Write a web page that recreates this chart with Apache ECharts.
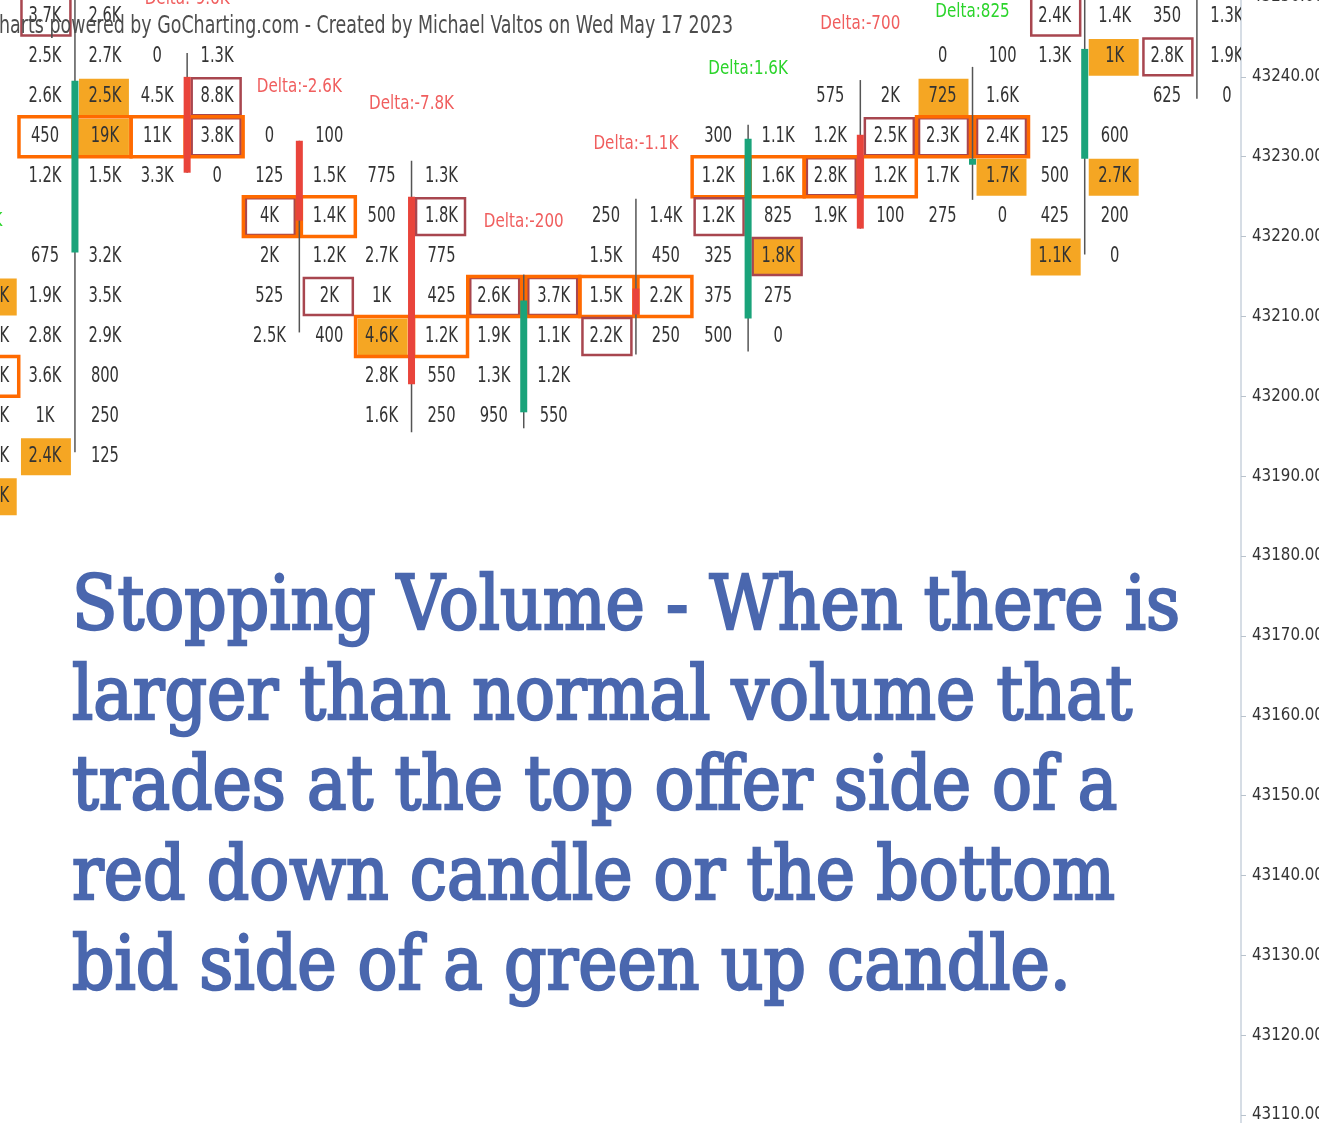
<!DOCTYPE html>
<html>
<head>
<meta charset="utf-8">
<script src="https://cdn.jsdelivr.net/npm/echarts@6.0.0/dist/echarts.min.js"></script>
<style>
html, body { margin: 0; padding: 0; background: #fff; }
#main { width: 1319px; height: 1123px; }
</style>
</head>
<body>
<div id="main"></div>
<script>
// candles: x index, OHLC in price
var candles = [-1, 0, 1, 2, 3, 4, 5, 6, 7, 8, 9, 10];
var opens  = [43200, 43218, 43240, 43232, 43225, 43198, 43213.5, 43209.75, 43232.75, 43229, 43229.75, 43252];
var closes = [43215, 43239.5, 43228, 43222, 43201.5, 43212, 43210.25, 43232.25, 43221, 43229.75, 43243.5, 43256];
var highs  = [43222, 43256, 43243, 43232, 43229.5, 43215.25, 43224.75, 43234, 43239.6, 43241.25, 43256, 43258];
var lows   = [43180, 43193, 43228, 43208, 43195.5, 43196, 43205.25, 43205.6, 43221, 43224.6, 43217.75, 43237.25];

var deltaText  = ['Delta:1.1K', '', 'Delta:-9.6K', 'Delta:-2.6K', 'Delta:-7.8K', 'Delta:-200', 'Delta:-1.1K', 'Delta:1.6K', 'Delta:-700', 'Delta:825', '', ''];
var deltaPrice = [43222, null, 43249.8, 43238.8, 43236.6, 43221.9, 43231.6, 43241, 43246.6, 43248.1, null, null];

// footprint rows: [row low price, bid, ask, bid mark, ask mark]
// marks: f = filled, o = orange box, m = maroon box
var fpM1 = [
    [43210, '', '1.3K', '', 'f'], [43205, '', '2.1K', '', ''], [43200, '', '1.6K', '', 'o'],
    [43195, '', '1.1K', '', ''], [43190, '', '1.4K', '', ''], [43185, '', '2.9K', '', 'f'],
    [43180, '', '0', '', '']
];
var fpA = [
    [43245, '3.7K', '2.6K', 'm', ''], [43240, '2.5K', '2.7K', '', ''], [43235, '2.6K', '2.5K', '', 'f'],
    [43230, '450', '19K', 'o', 'fo'], [43225, '1.2K', '1.5K', '', ''], [43215, '675', '3.2K', '', ''],
    [43210, '1.9K', '3.5K', '', ''], [43205, '2.8K', '2.9K', '', ''], [43200, '3.6K', '800', '', ''],
    [43195, '1K', '250', '', ''], [43190, '2.4K', '125', 'f', '']
];
var fpB = [
    [43240, '0', '1.3K', '', ''], [43235, '4.5K', '8.8K', '', 'm'], [43230, '11K', '3.8K', 'o', 'mo'],
    [43225, '3.3K', '0', '', '']
];
var fpC = [
    [43230, '0', '100', '', ''], [43225, '125', '1.5K', '', ''], [43220, '4K', '1.4K', 'mo', 'o'],
    [43215, '2K', '1.2K', '', ''], [43210, '525', '2K', '', 'm'], [43205, '2.5K', '400', '', '']
];
var fpD = [
    [43225, '775', '1.3K', '', ''], [43220, '500', '1.8K', '', 'm'], [43215, '2.7K', '775', '', ''],
    [43210, '1K', '425', '', ''], [43205, '4.6K', '1.2K', 'fo', 'o'], [43200, '2.8K', '550', '', ''],
    [43195, '1.6K', '250', '', '']
];
var fpE = [
    [43210, '2.6K', '3.7K', 'mo', 'mo'], [43205, '1.9K', '1.1K', '', ''], [43200, '1.3K', '1.2K', '', ''],
    [43195, '950', '550', '', '']
];
var fpF = [
    [43220, '250', '1.4K', '', ''], [43215, '1.5K', '450', '', ''], [43210, '1.5K', '2.2K', 'o', 'o'],
    [43205, '2.2K', '250', 'm', '']
];
var fpG = [
    [43230, '300', '1.1K', '', ''], [43225, '1.2K', '1.6K', 'o', 'o'], [43220, '1.2K', '825', 'm', ''],
    [43215, '325', '1.8K', '', 'fm'], [43210, '375', '275', '', ''], [43205, '500', '0', '', '']
];
var fpH = [
    [43235, '575', '2K', '', ''], [43230, '1.2K', '2.5K', '', 'm'], [43225, '2.8K', '1.2K', 'mo', 'o'],
    [43220, '1.9K', '100', '', '']
];
var fpI = [
    [43240, '0', '100', '', ''], [43235, '725', '1.6K', 'f', ''], [43230, '2.3K', '2.4K', 'mo', 'mo'],
    [43225, '1.7K', '1.7K', '', 'f'], [43220, '275', '0', '', '']
];
var fpJ = [
    [43245, '2.4K', '1.4K', 'm', ''], [43240, '1.3K', '1K', '', 'f'], [43230, '125', '600', '', ''],
    [43225, '500', '2.7K', '', 'f'], [43220, '425', '200', '', ''], [43215, '1.1K', '0', 'f', '']
];
var fpK = [
    [43245, '350', '1.3K', '', ''], [43240, '2.8K', '1.9K', 'm', ''], [43235, '625', '0', '', '']
];
var footprints = [fpM1, fpA, fpB, fpC, fpD, fpE, fpF, fpG, fpH, fpI, fpJ, fpK];

var priceTicks = [43100, 43250, 10];

var noteLines = [
    'Stopping Volume - When there is',
    'larger than normal volume that',
    'trades at the top offer side of a',
    'red down candle or the bottom',
    'bid side of a green up candle.'
];
var watermark = 'Charts powered by GoCharting.com - Created by Michael Valtos on Wed May 17 2023';

var NUM_FONT = '"DejaVu Sans Condensed", "DejaVu Sans", sans-serif';
var NOTE_FONT = '"DejaVu Serif", serif';
var ROW = 5;

var mctx = document.createElement('canvas').getContext('2d');
function tw(str, font) {
    mctx.font = font;
    return mctx.measureText(str).width;
}
var numScale = 33 / tw('2.5K', '21px ' + NUM_FONT);
var deltaScale = 85 / tw('Delta:-2.6K', '20px ' + NUM_FONT);
var wmScale = 734 / tw(watermark.slice(1), '25px ' + NUM_FONT);
var noteScale = 1108 / tw(noteLines[0], '74px ' + NOTE_FONT);
var axisFontSize = 15 * 72 / tw('43240.00', '15px ' + NUM_FONT);

// flat list of cells
var cells = [];
footprints.forEach(function (rows, k) {
    rows.forEach(function (r) {
        if (r[1] !== '') cells.push([candles[k], 0, r[0], r[1], r[3]]);
        if (r[2] !== '') cells.push([candles[k], 1, r[0], r[2], r[4]]);
    });
});

function renderCell(params, api) {
    var cell = cells[params.dataIndex];
    var c = cell[0], side = cell[1], price = cell[2], label = cell[3], mark = cell[4];
    var x0 = side === 0 ? c - 0.49 : c + 0.027;
    var x1 = side === 0 ? c - 0.027 : c + 0.49;
    var tl = api.coord([x0, price + ROW]);
    var br = api.coord([x1, price]);
    var w = br[0] - tl[0], h = br[1] - tl[1];
    var mid = api.coord([side === 0 ? c - 0.267 : c + 0.267, price + ROW / 2]);
    var children = [];
    if (mark.indexOf('f') >= 0) {
        children.push({type: 'rect', shape: {x: tl[0] + 1, y: tl[1] + 2, width: w - 2, height: h - 3},
            style: {fill: '#F5A623'}});
    }
    if (mark.indexOf('m') >= 0) {
        children.push({type: 'rect', shape: {x: tl[0] + 1.5, y: tl[1] + 1.5, width: w - 3, height: h - 3},
            style: {fill: 'none', stroke: '#A8464F', lineWidth: 2.5}});
    }
    if (mark.indexOf('o') >= 0) {
        children.push({type: 'rect', shape: {x: tl[0] - 1, y: tl[1], width: w + 2, height: h},
            style: {fill: 'none', stroke: '#FF6A00', lineWidth: 3.5}});
    }
    children.push({type: 'text', x: mid[0], y: mid[1], scaleX: numScale,
        style: {text: label, x: 0, y: 0, align: 'center', verticalAlign: 'middle',
            fill: '#333', fontSize: 21, fontFamily: NUM_FONT}});
    return {type: 'group', children: children};
}

function renderCandle(params, api) {
    var i = params.dataIndex;
    var x = candles[i];
    var o = api.coord([x, opens[i]]), cl = api.coord([x, closes[i]]);
    var hi = api.coord([x, highs[i]]), lo = api.coord([x, lows[i]]);
    var up = closes[i] >= opens[i];
    var top = Math.min(o[1], cl[1]);
    var bh = Math.max(Math.abs(o[1] - cl[1]), 3);
    return {type: 'group', children: [
        {type: 'line', shape: {x1: hi[0], y1: hi[1], x2: lo[0], y2: lo[1]},
            style: {stroke: '#555', lineWidth: 1.5}},
        {type: 'rect', shape: {x: o[0] - 3.5, y: top, width: 7, height: bh},
            style: {fill: up ? '#1AA37A' : '#E9443B'}}
    ]};
}

var deltaIdx = [];
deltaText.forEach(function (t, i) { if (t) deltaIdx.push(i); });

function renderDelta(params, api) {
    var i = deltaIdx[params.dataIndex];
    var p = api.coord([candles[i], deltaPrice[i]]);
    var neg = deltaText[i].indexOf('-') >= 0;
    return {type: 'text', x: p[0], y: p[1], scaleX: deltaScale,
        style: {text: deltaText[i], x: 0, y: 0, align: 'center', verticalAlign: 'middle',
            fill: neg ? '#F05E5E' : '#2BD42B', fontSize: 20, fontFamily: NUM_FONT}};
}

var graphics = [{
    type: 'text', x: 733, y: 26, z: 100, scaleX: wmScale,
    style: {text: watermark, x: 0, y: 0, align: 'right', verticalAlign: 'middle',
        fill: '#4d4d4d', fontSize: 25, fontFamily: NUM_FONT}
}];
noteLines.forEach(function (line, k) {
    graphics.push({
        type: 'text', x: 72, y: 610 + k * 90, z: 100, scaleX: noteScale,
        style: {text: line, x: 0, y: 0, align: 'left', verticalAlign: 'middle',
            fill: '#4A67AE', stroke: '#4A67AE', lineWidth: 2.5,
            fontSize: 74, fontFamily: NOTE_FONT}
    });
});

var myChart = echarts.init(document.getElementById('main'));
var option = {
    animation: false,
    backgroundColor: '#fff',
    grid: {left: 0, right: 78, top: -3, height: 1198, outerBoundsMode: 'none', containLabel: false},
    xAxis: {type: 'value', min: -0.668, max: 10.393, show: false},
    yAxis: {
        type: 'value', position: 'right',
        min: priceTicks[0], max: priceTicks[1], interval: priceTicks[2],
        axisLine: {show: true, onZero: false, lineStyle: {color: '#C8D2DC', width: 1.5}},
        axisTick: {show: true, length: 5, lineStyle: {color: '#B8C2CC'}},
        splitLine: {show: false},
        axisLabel: {
            margin: 11, color: '#333', fontSize: axisFontSize, fontFamily: NUM_FONT,
            formatter: function (v) { return v.toFixed(2); }
        }
    },
    graphic: graphics,
    series: [
        {
            type: 'custom', name: 'cells', clip: true, z: 2,
            renderItem: renderCell,
            encode: {x: 0, y: 1},
            data: cells.map(function (c) { return [c[0] + (c[1] ? 0.25 : -0.25), c[2]]; })
        },
        {
            type: 'custom', name: 'candles', clip: true, z: 3,
            renderItem: renderCandle,
            encode: {x: 0, y: [1, 2]},
            data: candles.map(function (x, i) { return [x, highs[i], lows[i]]; })
        },
        {
            type: 'custom', name: 'delta', clip: true, z: 4,
            renderItem: renderDelta,
            encode: {x: 0, y: 1},
            data: deltaIdx.map(function (i) { return [candles[i], deltaPrice[i]]; })
        }
    ]
};
myChart.setOption(option);
</script>
</body>
</html>
